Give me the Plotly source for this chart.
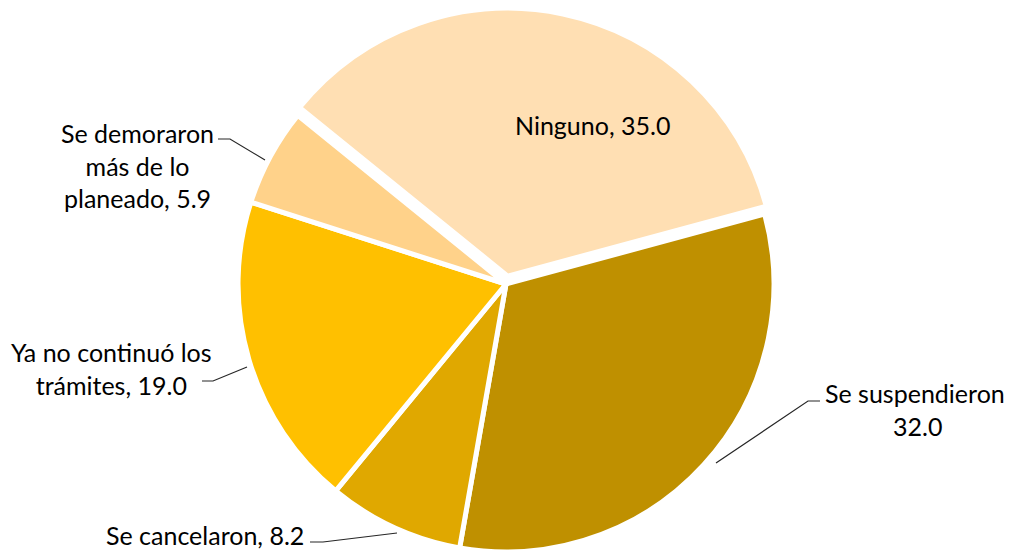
import plotly.graph_objects as go

# ---- data ----
categories = ["Ninguno", "Se suspendieron", "Se cancelaron",
              "Ya no continuó los trámites", "Se demoraron más de lo planeado"]
values = [35.0, 32.0, 8.2, 19.0, 5.9]
label_text = ["Ninguno, {v}", "Se suspendieron,<br>{v}", "Se cancelaron, {v}",
              "Ya no continuó los<br>trámites, {v}", "Se demoraron<br>más de lo<br>planeado, {v}"]
colors = ["#FFDFB3", "#BF9000", "#E0A800", "#FFC000", "#FFD28A"]
pulls = [0.03, 0, 0, 0, 0]

W, H = 1012, 552
OFF = 8  # page body margin offset seen in the rendered page

def px(x, y):
    # convert a screen pixel position into paper coordinates
    return (x - OFF) / W, 1 - (y - OFF) / H

fig = go.Figure()
fig.add_trace(go.Pie(
    labels=categories,
    values=values,
    sort=False,
    direction="clockwise",
    rotation=-51,
    pull=pulls,
    marker=dict(colors=colors, line=dict(color="white", width=5)),
    textinfo="none",
    hoverinfo="label+value",
    showlegend=False,
    domain=dict(x=[0, 996 / W], y=[0, 1]),
))

# label positions (screen pixel centres) and leader lines
label_pos = [(592, 125), (917, 409), (205, 535), (111, 368), (137, 165)]
leaders = [None,
           [(716, 463), (808, 401), (820, 401)],
           [(310, 542), (323, 542), (397, 533)],
           [(202, 381), (213, 381), (247, 367)],
           [(218, 139), (230, 139), (265, 160)]]

annotations = []
for i, cat in enumerate(categories):
    x, y = px(*label_pos[i])
    txt = label_text[i].format(v=f"{values[i]:.1f}")
    annotations.append(dict(
        x=x, y=y, xref="paper", yref="paper", text=txt, showarrow=False,
        xanchor="center", yanchor="middle", align="center",
        font=dict(family="Lato", size=25, color="#000000"),
    ))

shapes = []
for seg in leaders:
    if not seg:
        continue
    pts = [px(a, b) for a, b in seg]
    path = "M " + " L ".join(f"{a:.5f},{b:.5f}" for a, b in pts)
    shapes.append(dict(type="path", xref="paper", yref="paper", path=path,
                       line=dict(color="#262626", width=1.2)))

fig.update_layout(
    width=W, height=H,
    margin=dict(l=0, r=0, t=0, b=0),
    paper_bgcolor="white", plot_bgcolor="white",
    annotations=annotations, shapes=shapes,
)

fig.write_html("out.html")
